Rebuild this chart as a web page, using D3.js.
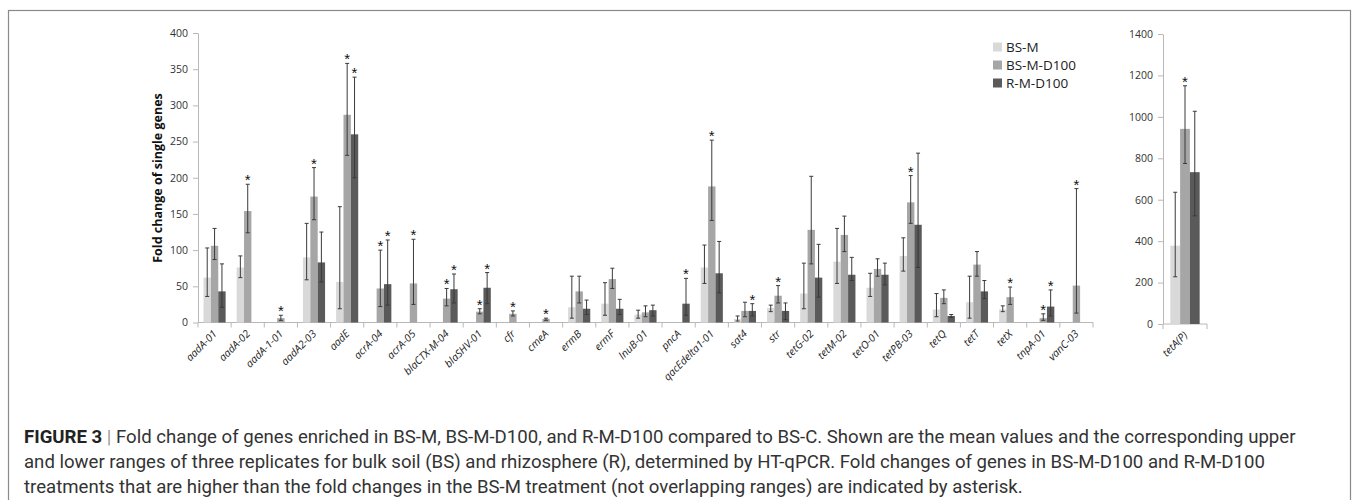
<!DOCTYPE html>
<html>
<head>
<meta charset="utf-8">
<script src="https://cdn.jsdelivr.net/npm/d3@7.9.0/dist/d3.min.js"></script>
<style>
  body { margin: 0; background: #fff; }
  svg { display: block; }
  .tick-label { font-family: "Open Sans", sans-serif; font-size: 10.5px; fill: #333; }
  .gene { font-family: "Open Sans", sans-serif; font-size: 10.5px; font-style: italic; fill: #222; }
  .caption { font-family: Roboto, "Liberation Sans", sans-serif; font-size: 18.6px; fill: #333; }
</style>
</head>
<body>
<div id="chart"></div>
<script>
// genes of the main panel
const genes = ['aadA-01', 'aadA-02', 'aadA-1-01', 'aadA2-03', 'aadE', 'acrA-04', 'acrA-05',
  'blaCTX-M-04', 'blaSHV-01', 'cfr', 'cmeA', 'ermB', 'ermF', 'lnuB-01', 'pncA',
  'qacEdelta1-01', 'sat4', 'str', 'tetG-02', 'tetM-02', 'tetO-01', 'tetPB-03',
  'tetQ', 'tetT', 'tetX', 'tnpA-01', 'vanC-03'];

const seriesNames = ['BS-M', 'BS-M-D100', 'R-M-D100'];

// mean, lower and upper range, null = no bar
const bsM    = [62, 76, null, 90, 56, null, null, null, null, null, null, 21, 26, 11, null, 76, 5, 20, 40, 84, 48, 92, 18, 28, 18, null, null];
const bsMLo  = [36, 62, null, 59, 19, null, null, null, null, null, null, 6, 10, 6, null, 54, 2, 15, 19, 54, 36, 71, 8, 6, 15, null, null];
const bsMHi  = [103, 92, null, 137, 160, null, null, null, null, null, null, 64, 55, 17, null, 107, 9, 24, 82, 130, 68, 117, 40, 64, 23, null, null];

const bsD    = [106, 154, 6, 174, 287, 47, 54, 33, 15, 12, 5, 43, 60, 14, null, 188, 16, 37, 128, 121, 74, 166, 34, 80, 35, 6, 51];
const bsDLo  = [87, 124, 3, 142, 231, 22, 25, 23, 12, 9, 3, 27, 47, 8, null, 141, 8, 27, 81, 98, 64, 137, 26, 64, 25, 3, 13];
const bsDHi  = [130, 191, 10, 214, 358, 100, 115, 47, 19, 16, 6, 64, 75, 23, null, 252, 28, 51, 202, 147, 88, 203, 45, 98, 49, 12, 185];

const rmD    = [43, null, null, 83, 260, 53, null, 46, 48, null, null, 19, 19, 17, 26, 68, 16, 16, 62, 66, 66, 135, 9, 43, null, 22, null];
const rmDLo  = [21, null, null, 56, 200, 24, null, 27, 26, null, null, 11, 11, 9, 10, 41, 9, 4, 35, 58, 52, 76, 7, 33, null, 9, null];
const rmDHi  = [81, null, null, 125, 339, 114, null, 67, 69, null, null, 31, 32, 24, 61, 112, 26, 27, 108, 90, 82, 234, 11, 58, null, 45, null];

// asterisks
const starsD100 = ['aadA-02', 'aadA-1-01', 'aadA2-03', 'aadE', 'acrA-04', 'acrA-05', 'blaCTX-M-04',
  'blaSHV-01', 'cfr', 'cmeA', 'qacEdelta1-01', 'str', 'tetPB-03', 'tetX', 'tnpA-01', 'vanC-03'];
const starsRM = ['aadE', 'acrA-04', 'blaCTX-M-04', 'blaSHV-01', 'pncA', 'sat4', 'tnpA-01'];

// separate panel
const sideGene = ['tetA(P)'];
const sideMean = [378, 942, 733];
const sideLo   = [228, 775, 522];
const sideHi   = [636, 1150, 1027];
const sideStars = ['BS-M-D100'];

const yTicksLeft = d3.range(0, 401, 50);
const yTicksRight = d3.range(0, 1401, 200);

const captionLines = [
  ['FIGURE 3 | ', 'Fold change of genes enriched in BS-M, BS-M-D100, and R-M-D100 compared to BS-C. Shown are the mean values and the corresponding upper'],
  ['', 'and lower ranges of three replicates for bulk soil (BS) and rhizosphere (R), determined by HT-qPCR. Fold changes of genes in BS-M-D100 and R-M-D100'],
  ['', 'treatments that are higher than the fold changes in the BS-M treatment (not overlapping ranges) are indicated by asterisk.']
];

const colors = d3.scaleOrdinal().domain(seriesNames).range(['#d9d9d9', '#a6a6a6', '#5a5a5a']);
const axisColor = '#b8b8b8';
const errColor = '#3a3a3a';

const width = 1358;
const height = 500;

const svg = d3.select('#chart').append('svg')
  .attr('width', width)
  .attr('height', height);

// frame round the figure
svg.append('rect')
  .attr('x', 8.5).attr('y', 10.5)
  .attr('width', 1342).attr('height', 520)
  .attr('fill', 'none')
  .attr('stroke', '#8a8a8a')
  .attr('stroke-width', 1.2);

function rowsFor(i) {
  return [
    { s: 'BS-M', v: bsM[i], lo: bsMLo[i], hi: bsMHi[i] },
    { s: 'BS-M-D100', v: bsD[i], lo: bsDLo[i], hi: bsDHi[i], star: starsD100.includes(genes[i]) },
    { s: 'R-M-D100', v: rmD[i], lo: rmDLo[i], hi: rmDHi[i], star: starsRM.includes(genes[i]) },
  ].filter(d => d.v != null);
}

function drawPanel(g, cats, getRows, x, y, ticks, capW) {
  const sub = d3.scaleBand().domain(seriesNames)
    .range([0, x.bandwidth()]).paddingInner(0).paddingOuter(0.75);

  // y axis
  const yAxis = d3.axisLeft(y).tickValues(ticks).tickFormat(d3.format('d'))
    .tickSize(5).tickSizeOuter(0).tickPadding(5);
  const ya = g.append('g')
    .attr('transform', `translate(${x.range()[0]},0)`)
    .call(yAxis);
  ya.select('.domain').attr('stroke', axisColor);
  ya.selectAll('.tick line').attr('stroke', axisColor);
  ya.selectAll('.tick text').attr('class', 'tick-label').attr('fill', '#333');

  // x axis line with ticks at band edges
  const x0 = x.range()[0], x1 = x.range()[1];
  const base = y(0);
  g.append('line')
    .attr('x1', x0).attr('x2', x1)
    .attr('y1', base).attr('y2', base)
    .attr('stroke', axisColor);
  const edges = cats.map(c => x(c)).concat([x1]);
  g.selectAll('.xtick')
    .data(edges)
    .join('line')
    .attr('class', 'xtick')
    .attr('x1', d => d).attr('x2', d => d)
    .attr('y1', base).attr('y2', base + 5)
    .attr('stroke', axisColor);

  cats.forEach((c, i) => {
    const rows = getRows(i);
    const grp = g.append('g').attr('transform', `translate(${x(c)},0)`);

    grp.selectAll('rect')
      .data(rows)
      .join('rect')
      .attr('x', d => sub(d.s))
      .attr('y', d => y(d.v))
      .attr('width', sub.bandwidth())
      .attr('height', d => y(0) - y(d.v))
      .attr('fill', d => colors(d.s));

    const cx = d => sub(d.s) + sub.bandwidth() / 2;

    grp.selectAll('line.err')
      .data(rows)
      .join('line')
      .attr('class', 'err')
      .attr('x1', cx).attr('x2', cx)
      .attr('y1', d => y(d.lo)).attr('y2', d => y(d.hi))
      .attr('stroke', errColor);

    ['lo', 'hi'].forEach(k => {
      grp.selectAll('line.cap-' + k)
        .data(rows)
        .join('line')
        .attr('class', 'cap-' + k)
        .attr('x1', d => cx(d) - capW / 2).attr('x2', d => cx(d) + capW / 2)
        .attr('y1', d => y(d[k])).attr('y2', d => y(d[k]))
        .attr('stroke', errColor);
    });

    grp.selectAll('text.star')
      .data(rows.filter(d => d.star))
      .join('text')
      .attr('class', 'star')
      .attr('x', cx)
      .attr('y', d => y(d.hi) + 1)
      .attr('text-anchor', 'middle')
      .style('font-family', 'Liberation Sans, Arial, sans-serif')
      .style('font-size', '15px')
      .attr('fill', '#111')
      .text('*');

    // gene label, rotated
    const lx = x(c) + x.bandwidth() / 2 + 3;
    g.append('text')
      .attr('class', 'gene')
      .attr('transform', `translate(${lx},${base + 12}) rotate(-45)`)
      .attr('text-anchor', 'end')
      .text(c);
  });
}

// main panel
const xMain = d3.scaleBand().domain(genes).range([198, 1093]).padding(0);
const yMain = d3.scaleLinear().domain([0, 400]).range([322.5, 33]);
drawPanel(svg.append('g'), genes, rowsFor, xMain, yMain, yTicksLeft, 4);

// tetA(P) panel
const xSide = d3.scaleBand().domain(sideGene).range([1163, 1207]).padding(0);
const ySide = d3.scaleLinear().domain([0, 1400]).range([324, 34]);
drawPanel(svg.append('g'), sideGene, () => seriesNames.map((s, k) => ({
  s, v: sideMean[k], lo: sideLo[k], hi: sideHi[k], star: sideStars.includes(s)
})), xSide, ySide, yTicksRight, 4);

// y title
svg.append('text')
  .attr('transform', 'translate(162,178) rotate(-90)')
  .attr('text-anchor', 'middle')
  .style('font-family', '"Open Sans", sans-serif')
  .style('font-size', '12.5px')
  .style('font-weight', 'bold')
  .attr('fill', '#111')
  .text('Fold change of single genes');

// legend
const legend = svg.append('g').attr('transform', 'translate(993,47)');
seriesNames.forEach((s, i) => {
  const row = legend.append('g').attr('transform', `translate(0,${i * 18})`);
  row.append('rect').attr('x', 0).attr('y', -4.5).attr('width', 9).attr('height', 9).attr('fill', colors(s));
  row.append('text')
    .attr('x', 13).attr('y', 0)
    .attr('dominant-baseline', 'central')
    .style('font-family', '"Open Sans", sans-serif')
    .style('font-size', '13.5px')
    .attr('fill', '#222')
    .text(s);
});

// caption
const cap = svg.append('g');
captionLines.forEach((ln, i) => {
  const t = cap.append('text')
    .attr('class', 'caption')
    .attr('x', 24)
    .attr('y', 443 + i * 25);
  if (ln[0]) {
    t.append('tspan').style('font-weight', 'bold').attr('fill', '#222').text('FIGURE 3');
    t.append('tspan').attr('fill', '#999').text(' | ');
  }
  t.append('tspan').text(ln[1]);
});
</script>
</body>
</html>
